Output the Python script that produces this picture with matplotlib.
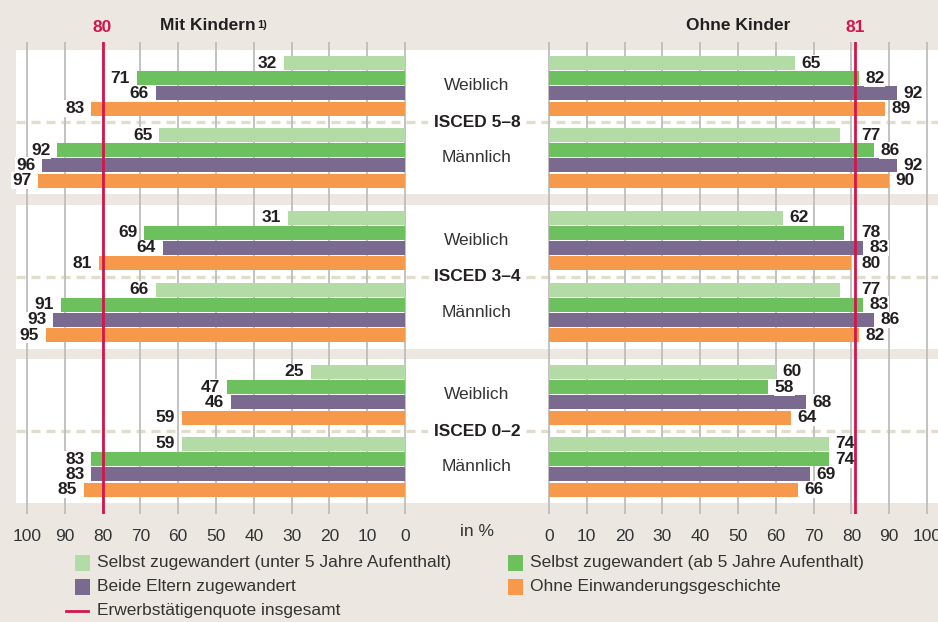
import matplotlib
matplotlib.use("Agg")
import matplotlib.pyplot as plt
from matplotlib.patches import Rectangle

plt.rcParams['font.family'] = ['Liberation Sans Narrow', 'Liberation Sans', 'DejaVu Sans']

# ---- data: Erwerbstaetigenquote in % ----
groups = ["ISCED 5–8", "ISCED 3–4", "ISCED 0–2"]
sexes = ["Weiblich", "Männlich"]
series_labels = ["Selbst zugewandert (unter 5 Jahre Aufenthalt)",
                 "Selbst zugewandert (ab 5 Jahre Aufenthalt)",
                 "Beide Eltern zugewandert",
                 "Ohne Einwanderungsgeschichte"]
colors = ["#b3dba6", "#6cc05d", "#7b6a90", "#f7994a"]

# order: 5-8 W, 5-8 M, 3-4 W, 3-4 M, 0-2 W, 0-2 M
mit_unter5 = [32, 65, 31, 66, 25, 59]
mit_ab5 = [71, 92, 69, 91, 47, 83]
mit_eltern = [66, 96, 64, 93, 46, 83]
mit_ohne_eg = [83, 97, 81, 95, 59, 85]

ohne_unter5 = [65, 77, 62, 77, 60, 74]
ohne_ab5 = [82, 86, 78, 83, 58, 74]
ohne_eltern = [92, 92, 83, 86, 68, 69]
ohne_ohne_eg = [89, 90, 80, 82, 64, 66]

quote_mit = 80
quote_ohne = 81

# ---- layout (pixels) ----
W, H = 938, 622
BG = "#ece8e1"
RED = "#d2164b"
TXT = "#231f20"
panel_tops = [50, 204.5, 359]
panel_h = 144
bar_step = 15.2
bar_h = 14
first_off = 13
sex_off = 72
cx = (405 + 549) / 2

fig = plt.figure(figsize=(W / 100, H / 100), dpi=100)
fig.patch.set_facecolor(BG)


def px_axes(x0, y0, x1, y1, **kw):
    return fig.add_axes([x0 / W, 1 - y1 / H, (x1 - x0) / W, (y1 - y0) / H], **kw)


bg = px_axes(0, 0, W, H, zorder=0)
bg.set_xlim(0, W)
bg.set_ylim(H, 0)
bg.axis('off')

for p, top in enumerate(panel_tops):
    bg.add_patch(Rectangle((16, top), W - 16, panel_h, fc='white', ec='none'))
    ydash = top + 72.3
    bg.plot([16, W], [ydash, ydash], color="#e2dccc", lw=2.4, dashes=(2.7, 1.8),
            solid_capstyle='butt')
    bg.text(cx, ydash, groups[p], ha='center', va='center', fontsize=12.5,
            fontweight='bold', color=TXT,
            bbox=dict(boxstyle='square,pad=0.3', fc='white', ec='none'))
    for g, s in enumerate(sexes):
        ys = top + first_off + g * sex_off + 1.5 * bar_step
        bg.text(cx, ys, s, ha='center', va='center', fontsize=12.5, color="#333333")

ax_l = px_axes(16, 42, 406, 514, zorder=1)
ax_r = px_axes(548, 42, 938, 514, zorder=1)
ax_l.set_xlim(102.9, -0.26)
ax_r.set_xlim(-0.26, 102.9)

sides = [
    (ax_l, [mit_unter5, mit_ab5, mit_eltern, mit_ohne_eg], quote_mit, -5),
    (ax_r, [ohne_unter5, ohne_ab5, ohne_eltern, ohne_ohne_eg], quote_ohne, 4.5),
]
for ax, series, quote, off in sides:
    ax.set_facecolor('none')
    ax.set_ylim(514, 42)
    for sp in ax.spines.values():
        sp.set_visible(False)
    ax.set_yticks([])
    ax.set_xticks(range(0, 101, 10))
    ax.tick_params(axis='x', length=0, pad=11, labelsize=12.5, labelcolor="#333333")
    ax.grid(axis='x', color="#bdbdbd", lw=1.3, zorder=0)
    ax.set_axisbelow(True)
    for k in range(6):
        p, g = divmod(k, 2)
        y0 = panel_tops[p] + first_off + g * sex_off
        for i, vals in enumerate(series):
            y = y0 + i * bar_step
            v = vals[k]
            ax.barh(y, v, height=bar_h, color=colors[i], zorder=2)
            # keep value labels clear of the red reference line
            anchor = quote if 0 < quote - v <= 5 else v
            ax.annotate(str(v), (anchor, y), xytext=(off, 0), textcoords='offset points',
                        ha='right' if off < 0 else 'left', va='center',
                        fontsize=12.5, fontweight='bold', color=TXT, zorder=3,
                        bbox=dict(boxstyle='square,pad=0.05', fc='white', ec='none'))
    ax.axvline(quote, color=RED, lw=2, zorder=4)
    ax.text(quote, 28, str(quote), ha='center', va='center', color=RED,
            fontsize=12.5, fontweight='bold', clip_on=False)

# titles
t1 = bg.text(208, 25, "Mit Kindern", ha='center', va='center', fontsize=12.5,
             fontweight='bold', color=TXT)
bg.annotate("1)", xy=(1, 0.85), xycoords=t1, xytext=(1, 0), textcoords='offset points',
            ha='left', va='top', fontsize=8, fontweight='bold', color=TXT)
bg.text(738, 25, "Ohne Kinder", ha='center', va='center', fontsize=12.5,
        fontweight='bold', color=TXT)
bg.text(cx, 531, "in %", ha='center', va='center', fontsize=12.5, color="#333333")

# legend
leg_pos = [(75, 563), (508, 563), (75, 587), (508, 587)]
for i, (lx, ly) in enumerate(leg_pos):
    bg.add_patch(Rectangle((lx, ly - 8), 15, 16, fc=colors[i], ec='none'))
    bg.text(lx + 22, ly, series_labels[i], ha='left', va='center', fontsize=12.5,
            color="#333333")
bg.plot([66, 88], [611, 611], color=RED, lw=2)
bg.text(97, 611, "Erwerbstätigenquote insgesamt", ha='left', va='center',
        fontsize=12.5, color="#333333")

fig.savefig("out.png", dpi=100, facecolor=BG)
